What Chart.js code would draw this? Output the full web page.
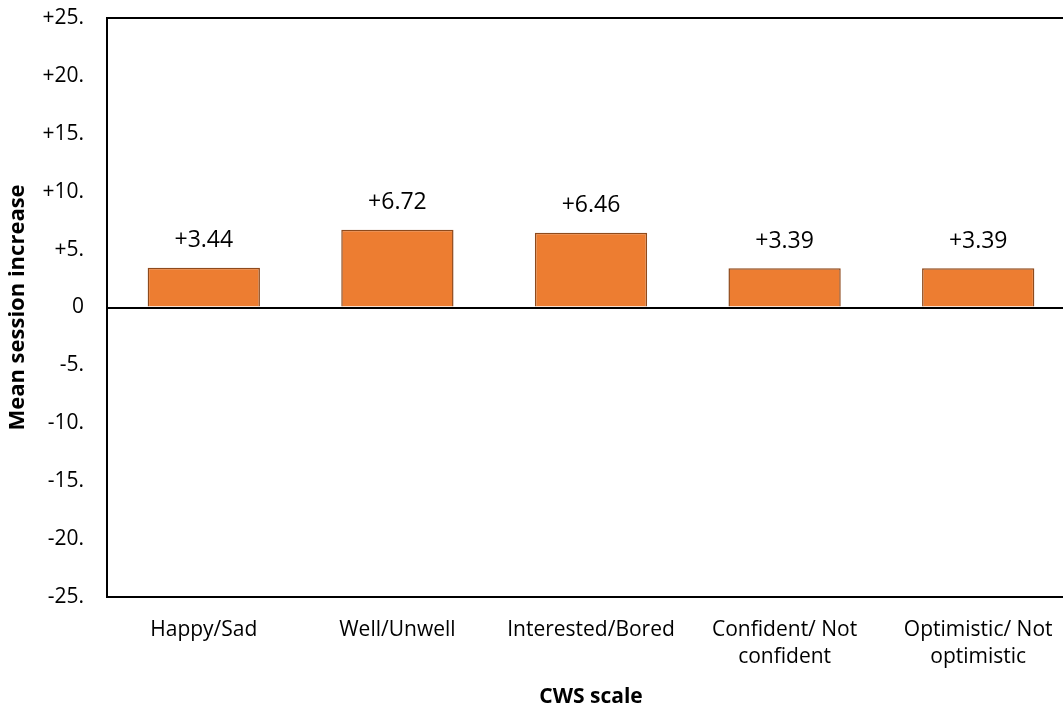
<!DOCTYPE html>
<html>
<head>
<meta charset="utf-8">
<script src="https://cdn.jsdelivr.net/npm/chart.js@4"></script>
<style>
  html, body { margin: 0; padding: 0; background: #fff; overflow: hidden; }
  #wrap { width: 1075px; height: 711px; position: relative; }
</style>
</head>
<body>
<div id="wrap"><canvas id="cwsChart"></canvas></div>
<script>
const categories = ['Happy/Sad', 'Well/Unwell', 'Interested/Bored', ['Confident/ Not', 'confident'], ['Optimistic/ Not', 'optimistic']];
const meanIncrease = [3.44, 6.72, 6.46, 3.39, 3.39];
const yTicks = [-25, -20, -15, -10, -5, 0, 5, 10, 15, 20, 25];

const FONT = '"Open Sans", sans-serif';

function tickText(v) {
    if (v === 0) return '0';
    return (v > 0 ? '+' : '') + v + '.';
}

// frame around the plot area
const frame = {
    id: 'frame',
    afterDraw(chart) {
        const { ctx, chartArea: a } = chart;
        ctx.save();
        ctx.strokeStyle = '#000';
        ctx.lineWidth = 2;
        ctx.strokeRect(a.left, a.top, a.right - a.left, a.bottom - a.top);
        ctx.restore();
    }
};

// value labels above each bar
const valueLabels = {
    id: 'valueLabels',
    afterDatasetsDraw(chart) {
        const { ctx } = chart;
        const meta = chart.getDatasetMeta(0);
        ctx.save();
        ctx.font = '23px ' + FONT;
        ctx.fillStyle = '#000';
        ctx.textAlign = 'center';
        ctx.textBaseline = 'middle';
        meta.data.forEach((bar, i) => {
            const v = meanIncrease[i];
            ctx.fillText((v > 0 ? '+' : '') + v.toFixed(2), bar.x, bar.y - 27);
        });
        ctx.restore();
    }
};

new Chart(document.getElementById('cwsChart'), {
    type: 'bar',
    data: {
        labels: categories,
        datasets: [{
            data: meanIncrease,
            backgroundColor: '#ED7D31',
            borderColor: '#8E4A1C',
            borderWidth: 1.5,
            categoryPercentage: 1,
            barPercentage: 0.58
        }]
    },
    options: {
        responsive: true,
        maintainAspectRatio: false,
        animation: false,
        layout: { autoPadding: false, padding: { top: 18, right: 0, left: 0, bottom: 0 } },
        plugins: {
            legend: { display: false },
            tooltip: { enabled: false }
        },
        scales: {
            x: {
                grid: { display: false, drawTicks: false },
                border: { display: false },
                ticks: {
                    color: '#000',
                    padding: 19,
                    maxRotation: 0,
                    autoSkip: false,
                    font: { family: FONT, size: 21, lineHeight: 1.3 }
                },
                title: {
                    display: true,
                    text: 'CWS scale',
                    color: '#000',
                    padding: { top: 0, bottom: 1.5 },
                    font: { family: FONT, size: 21, weight: 'bold' }
                },
                afterFit(scale) {
                    scale.height = 114;
                    scale.paddingLeft = 0;
                    scale.paddingRight = 0;
                }
            },
            y: {
                min: -25,
                max: 25,
                afterBuildTicks(scale) { scale.ticks = yTicks.map(v => ({ value: v })); },
                grid: {
                    drawTicks: false,
                    lineWidth: 2,
                    color: c => c.tick && c.tick.value === 0 ? '#000' : 'rgba(0,0,0,0)'
                },
                border: { display: false },
                ticks: {
                    color: '#000',
                    padding: 23,
                    font: { family: FONT, size: 21 },
                    callback: v => tickText(v)
                },
                title: {
                    display: true,
                    text: 'Mean session increase',
                    color: '#000',
                    padding: { top: 5, bottom: 0 },
                    font: { family: FONT, size: 22, weight: 'bold' }
                },
                afterFit(scale) {
                    scale.width = 107;
                    scale.paddingTop = 0;
                    scale.paddingBottom = 0;
                }
            }
        }
    },
    plugins: [frame, valueLabels]
});
</script>
</body>
</html>
